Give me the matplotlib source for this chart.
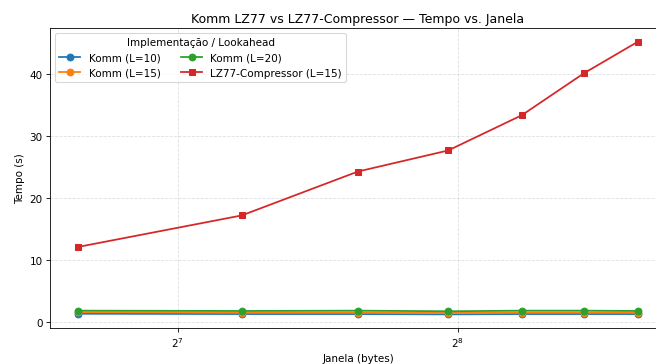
import matplotlib
matplotlib.use('Agg')
import matplotlib.pyplot as plt

janelas = [100, 150, 200, 250, 300, 350, 400]
komm_l10 = [1.3, 1.25, 1.25, 1.2, 1.25, 1.25, 1.25]
komm_l15 = [1.55, 1.5, 1.5, 1.45, 1.5, 1.5, 1.5]
komm_l20 = [1.8, 1.75, 1.8, 1.7, 1.8, 1.8, 1.75]
lz77_l15 = [12.1, 17.2, 24.3, 27.7, 33.4, 40.2, 45.3]

# figura original maior, reduzida para 656x365
dpi = 75
fig = plt.figure(figsize=(656 / dpi, 365 / dpi), dpi=dpi)
ax = fig.add_axes([50 / 656, 1 - 329 / 365, 616 / 656, 300 / 365])

ax.plot(janelas, komm_l10, marker='o', ms=6.5, lw=1.7, label='Komm (L=10)')
ax.plot(janelas, komm_l15, marker='o', ms=6.5, lw=1.7, label='Komm (L=15)')
ax.plot(janelas, komm_l20, marker='o', ms=6.5, lw=1.7, label='Komm (L=20)')
ax.plot(janelas, lz77_l15, marker='s', ms=6.5, lw=1.7, label='LZ77-Compressor (L=15)')

ax.set_xscale('log', base=2)
ax.set_xlabel('Janela (bytes)')
ax.set_ylabel('Tempo (s)')
ax.set_title('Komm LZ77 vs LZ77-Compressor — Tempo vs. Janela')
ax.grid(True, linestyle='--', alpha=0.4)
ax.legend(title='Implementação / Lookahead', ncol=2, loc='upper left')

fig.savefig('out.png', dpi=dpi)
